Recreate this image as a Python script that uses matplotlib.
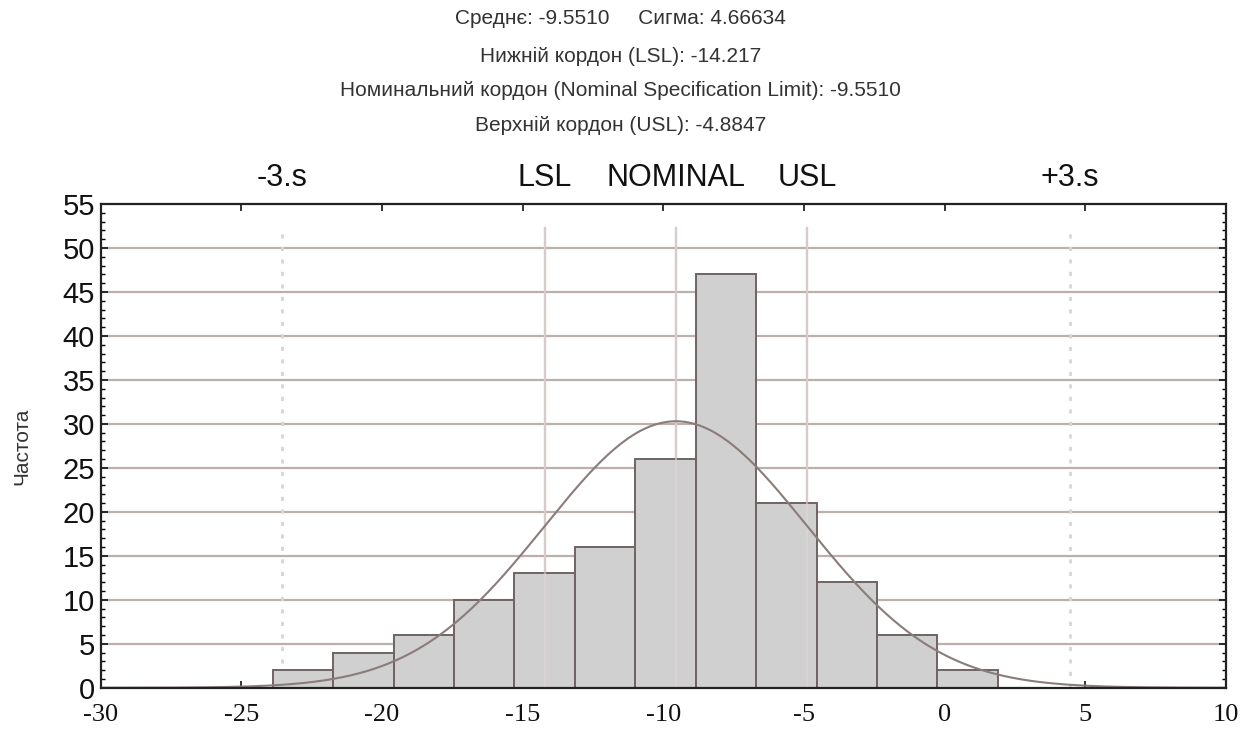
import numpy as np
import matplotlib
matplotlib.use("Agg")
import matplotlib.pyplot as plt
from matplotlib.ticker import MultipleLocator
import matplotlib.transforms as mtransforms

# ---- data ----
mean_val = -9.5510
sigma_val = 4.66634
lsl_val = -14.217
nominal_val = -9.5510
usl_val = -4.8847
bin_start = -28.18
bin_width = 2.148
counts = [0, 0, 2, 4, 6, 10, 13, 16, 26, 47, 21, 12, 6, 2, 0, 0]

title_lines = [
    "Среднє: -9.5510     Сигма: 4.66634",
    "Нижній кордон (LSL): -14.217",
    "Номинальний кордон (Nominal Specification Limit): -9.5510",
    "Верхній кордон (USL): -4.8847",
]
top_labels = ["-3.s", "LSL", "NOMINAL", "USL", "+3.s"]
top_positions = [mean_val - 3 * sigma_val, lsl_val, nominal_val, usl_val, mean_val + 3 * sigma_val]
ylabel_text = "Частота"
x_lim = (-30, 10)
y_lim = (0, 55)

plt.rcParams['font.family'] = ['Liberation Sans', 'DejaVu Sans']
plt.rcParams['axes.unicode_minus'] = False

fig = plt.figure(figsize=(12.41, 7.30), dpi=100)
ax = fig.add_axes([0.0811, 0.0579, 0.9068, 0.6626])

edges = bin_start + bin_width * np.arange(len(counts) + 1)
lefts = edges[:-1]

grid_col = '#bdafac'
spec_col = '#cbbcbb'
line_top = 52.3 / 55

# horizontal grid
for yv in range(5, 55, 5):
    ax.axhline(yv, color=grid_col, lw=1.6, zorder=1)

# spec lines (behind bars)
for xv in [lsl_val, nominal_val, usl_val]:
    ax.axvline(xv, ymax=line_top, color=spec_col, lw=1.6, zorder=1.5)
for xv in [mean_val - 3 * sigma_val, mean_val + 3 * sigma_val]:
    ax.axvline(xv, ymax=line_top, color='#d6d6d6', lw=2.0, ls=(0, (1.5, 3)), zorder=1.5)

# bars
ax.bar(lefts, counts, width=bin_width, align='edge', color='#d0d0d0',
       edgecolor='#6f6463', linewidth=1.4, zorder=2)

# spec lines faintly over bars
for xv in [lsl_val, nominal_val, usl_val]:
    ax.axvline(xv, ymax=line_top, color='#e2d6d6', lw=1.6, alpha=0.6, zorder=2.5)

# fitted normal curve
n_total = sum(counts)
xs = np.linspace(x_lim[0], x_lim[1], 600)
ys = n_total * bin_width / (sigma_val * np.sqrt(2 * np.pi)) * np.exp(-0.5 * ((xs - mean_val) / sigma_val) ** 2)
ax.plot(xs, ys, color='#8a7c7a', lw=1.5, zorder=3)

ax.set_xlim(*x_lim)
ax.set_ylim(*y_lim)

ax.xaxis.set_major_locator(MultipleLocator(5))
ax.yaxis.set_major_locator(MultipleLocator(5))
ax.yaxis.set_minor_locator(MultipleLocator(1))
ax.tick_params(axis='y', which='major', direction='in', length=5, width=1.2,
               left=True, right=True, labelsize=21, pad=4, colors='#111111')
ax.tick_params(axis='y', which='minor', direction='in', length=3, width=1.0,
               left=True, right=True)
ax.tick_params(axis='x', which='major', direction='in', length=5, width=1.2,
               bottom=True, top=True, labelsize=19, pad=12, colors='#111111')
for lab in ax.get_xticklabels():
    lab.set_fontfamily('Liberation Serif')

for sp in ax.spines.values():
    sp.set_linewidth(1.6)
    sp.set_color('#222222')
    sp.set_zorder(5)

# labels above axes
trans = mtransforms.blended_transform_factory(ax.transData, ax.transAxes)
for lab, xv in zip(top_labels, top_positions):
    ax.text(xv, 1.054, lab, transform=trans, ha='center', va='center',
            fontsize=22, color='#111111')

# title block
title_y = [18, 56, 90, 125]
for line, yp in zip(title_lines, title_y):
    fig.text(0.5, 1 - yp / 730, line, ha='center', va='center', fontsize=15, color='#333333')

fig.text(22 / 1241, 1 - 446 / 730, ylabel_text, rotation=90, ha='center', va='center',
         fontsize=15, color='#333333')

fig.savefig('out.png', dpi=100)
